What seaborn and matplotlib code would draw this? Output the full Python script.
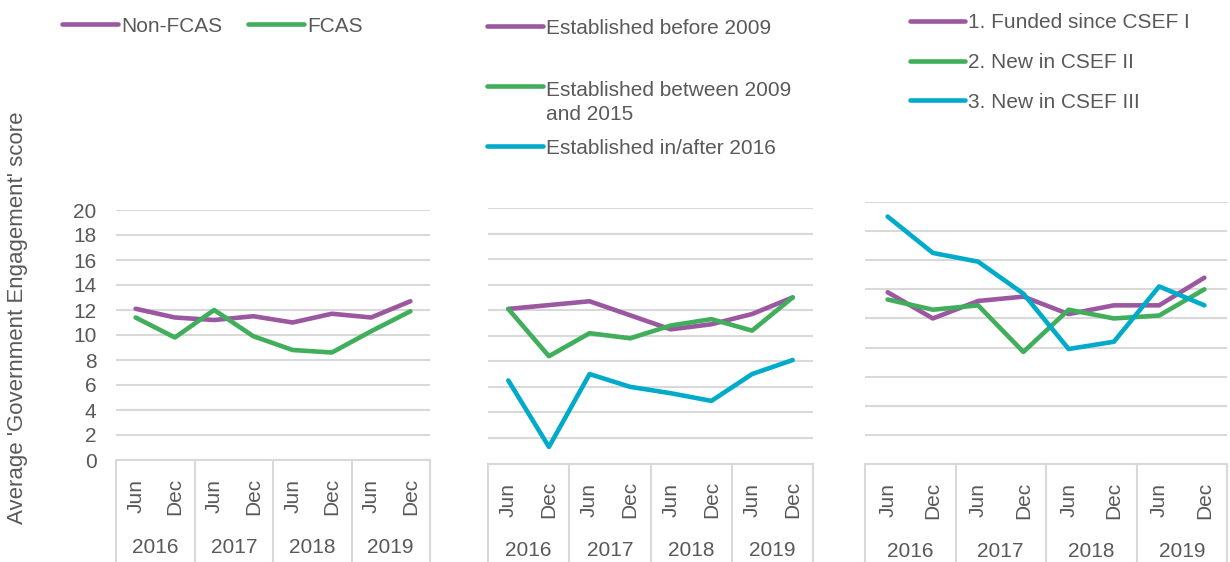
import numpy as np
import pandas as pd
import matplotlib
matplotlib.use("Agg")
import matplotlib.pyplot as plt
import seaborn as sns
from matplotlib.lines import Line2D

# ---------------- data ----------------
months = ["Jun", "Dec", "Jun", "Dec", "Jun", "Dec", "Jun", "Dec"]
years = ["2016", "2017", "2018", "2019"]

p1_names = ["Non-FCAS", "FCAS"]
p1_non_fcas = [12.1, 11.4, 11.2, 11.5, 11.0, 11.7, 11.4, 12.7]
p1_fcas = [11.4, 9.8, 12.0, 9.9, 8.8, 8.6, 10.3, 11.9]

p2_names = ["Established before 2009", "Established between 2009\nand 2015",
            "Established in/after 2016"]
p2_before_2009 = [12.1, 12.4, 12.7, 11.6, 10.5, 10.9, 11.7, 13.0]
p2_2009_2015 = [12.1, 8.4, 10.2, 9.8, 10.8, 11.3, 10.4, 13.0]
p2_after_2016 = [6.5, 1.3, 7.0, 6.0, 5.5, 4.9, 7.0, 8.1]

p3_names = ["1. Funded since CSEF I", "2. New in CSEF II", "3. New in CSEF III"]
p3_csef1 = [11.8, 10.0, 11.2, 11.5, 10.3, 10.9, 10.9, 12.8]
p3_csef2 = [11.3, 10.6, 10.9, 7.7, 10.6, 10.0, 10.2, 12.0]
p3_csef3 = [17.0, 14.5, 13.9, 11.7, 7.9, 8.4, 12.2, 10.9]

colors = ["#9B58A1", "#40AE5A", "#00ABCA"]
text_color = "#595959"
grid_color = "#D9D9D9"
ylabel = "Average 'Government Engagement' score"

# ---------------- figure ----------------
sns.set_theme(style="white")
plt.rcParams['font.family'] = ['Liberation Sans', 'DejaVu Sans']

W, H = 1230, 562
LW = 3.3
fig = plt.figure(figsize=(W / 100, H / 100), dpi=100)


def px_rect(left, top, right, bottom):
    return [left / W, 1 - bottom / H, (right - left) / W, (bottom - top) / H]


panels = [
    dict(rect=px_rect(116, 210, 430, 460), names=p1_names,
         series=[p1_non_fcas, p1_fcas], ymax=20, labels=True),
    dict(rect=px_rect(488, 208, 813, 463.5), names=p2_names,
         series=[p2_before_2009, p2_2009_2015, p2_after_2016], ymax=20, labels=False),
    dict(rect=px_rect(865, 202, 1227, 464), names=p3_names,
         series=[p3_csef1, p3_csef2, p3_csef3], ymax=18, labels=False),
]

for p in panels:
    ax = fig.add_axes(p["rect"])
    n = len(p["names"])
    df = pd.DataFrame({
        "pos": np.tile(np.arange(len(months)) + 0.5, n),
        "score": np.concatenate(p["series"]),
        "group": np.repeat(p["names"], len(months)),
    })
    sns.lineplot(data=df, x="pos", y="score", hue="group", hue_order=p["names"],
                 palette=colors[:n], linewidth=LW, legend=False, ax=ax,
                 sort=False, solid_capstyle="round", solid_joinstyle="round")
    ax.set_xlim(0, len(months))
    ax.set_ylim(0, p["ymax"])
    ax.set_yticks(np.arange(0, p["ymax"] + 1, 2))
    ax.set_xticks([])
    ax.set_xlabel("")
    ax.set_ylabel("")
    ax.yaxis.grid(True, color=grid_color, linewidth=1.5)
    ax.set_axisbelow(True)
    for s in ["left", "right", "top"]:
        ax.spines[s].set_visible(False)
    ax.spines["bottom"].set_color(grid_color)
    ax.spines["bottom"].set_linewidth(1.5)
    ax.tick_params(axis="y", length=0, pad=14, labelsize=15, labelcolor=text_color)
    if not p["labels"]:
        ax.set_yticklabels([])
    tr = ax.get_xaxis_transform()
    for i, m in enumerate(months):
        ax.annotate(m, xy=(i + 0.5, 0), xycoords=tr, xytext=(0, -26),
                    textcoords="offset points", rotation=90, ha="center",
                    va="center", fontsize=15, color=text_color)
    for j, yr in enumerate(years):
        ax.annotate(yr, xy=(2 * j + 1, 0), xycoords=tr, xytext=(0, -63),
                    textcoords="offset points", ha="center", va="center",
                    fontsize=15, color=text_color)
    for xs in range(0, len(months) + 1, 2):
        ax.plot([xs, xs], [0, -1], transform=tr, clip_on=False,
                color=grid_color, linewidth=1.5)


# ---------------- legends ----------------
LINE_GAP = 26  # px between lines of a wrapped legend label


def legend_entry(x0, x1, y, label, color):
    fig.add_artist(Line2D([x0 / W, x1 / W], [1 - y / H, 1 - y / H],
                          transform=fig.transFigure, color=color,
                          linewidth=LW, solid_capstyle="round"))
    extra = label.count("\n")
    fig.text((x1 + 3) / W, 1 - (y + 7.5 + extra * LINE_GAP) / H, label,
             ha="left", va="baseline", fontsize=15, color=text_color,
             linespacing=1.3)


legend_entry(62, 118, 24, p1_names[0], colors[0])
legend_entry(248, 304, 24, p1_names[1], colors[1])
for k, yy in enumerate([26, 86, 146]):
    legend_entry(487, 543, yy, p2_names[k], colors[k])
for k, yy in enumerate([21, 61, 100]):
    legend_entry(910, 965, yy, p3_names[k], colors[k])

fig.text(18 / W, 1 - 318 / H, ylabel, rotation=90, ha="center", va="center",
         fontsize=16, color=text_color)

fig.savefig("out.png", dpi=100)
